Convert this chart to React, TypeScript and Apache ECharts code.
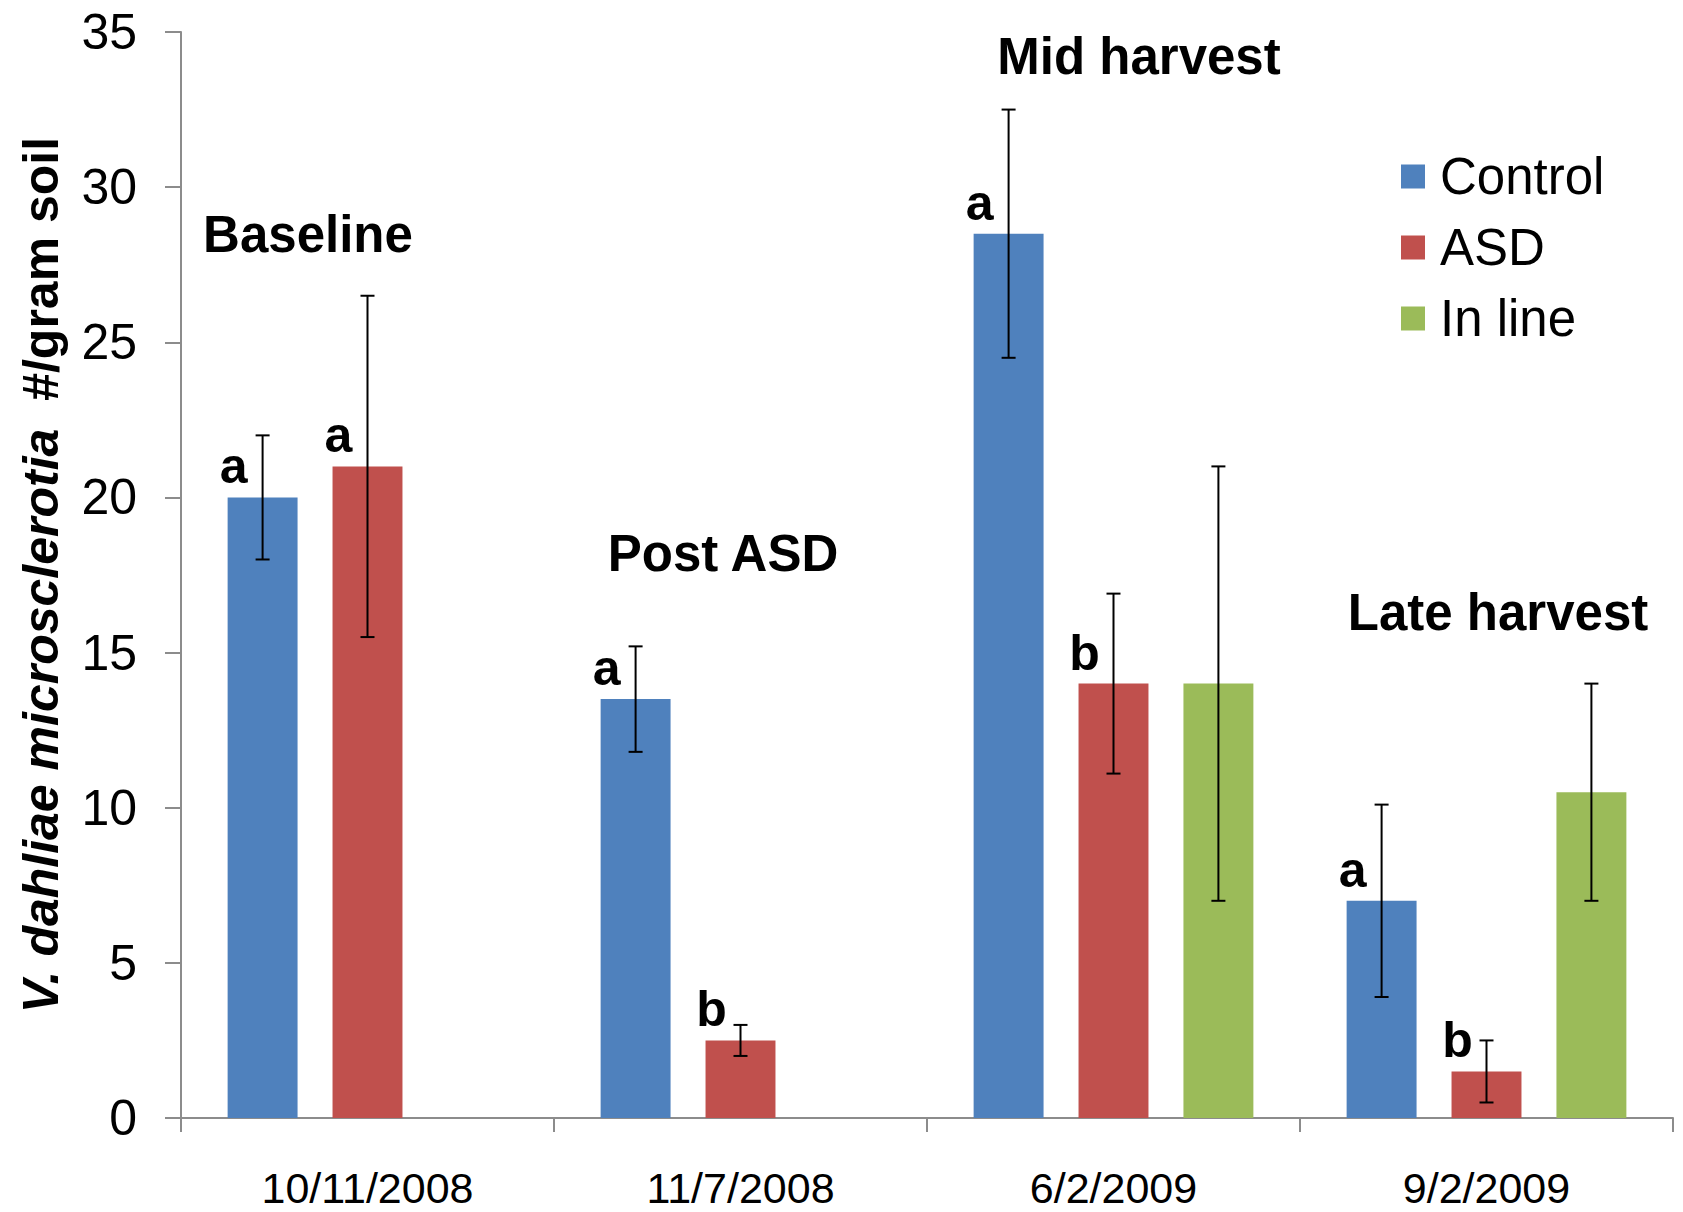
import React, { useEffect, useRef } from "react";
import * as echarts from "echarts";

// Sampling dates along the x axis
const dates = ["10/11/2008", "11/7/2008", "6/2/2009", "9/2/2009"];
const seriesNames = ["Control", "ASD", "In line"];

// Mean microsclerotia counts per gram of soil
const controlMeans = [20, 13.5, 28.5, 7];
const asdMeans = [21, 2.5, 14, 1.5];
const inlineMeans = [null, null, 14, 10.5];

// Error bar half-widths
const controlErr = [2, 1.7, 4, 3.1];
const asdErr = [5.5, 0.5, 2.9, 1];
const inlineErr = [null, null, 7, 3.5];

// Significance letters above bars
const controlLetters = ["a", "a", "a", "a"];
const asdLetters = ["a", "b", "b", "b"];
const inlineLetters = ["", "", "", ""];

// Period names written over each date group
const periodNames = ["Baseline", "Post ASD", "Mid harvest", "Late harvest"];

// Y axis scale
const yMin = 0;
const yMax = 35;
const yStep = 5;

const FONT = "'Liberation Sans', Arial, Helvetica, sans-serif";
const COLORS = ["#4F81BD", "#C0504D", "#9BBB59"];
const AXIS_GREY = "#8c8c8c";

export default function App() {
  const ref = useRef<HTMLDivElement | null>(null);

  useEffect(() => {
    if (!ref.current) return;
    const chart = echarts.init(ref.current, null, { renderer: "svg" });

    const means = [controlMeans, asdMeans, inlineMeans];
    const errs = [controlErr, asdErr, inlineErr];
    const letters = [controlLetters, asdLetters, inlineLetters];

    const barSeries = means.map((vals, si) => ({
      name: seriesNames[si],
      type: "bar",
      data: vals.map((v) => (v === null ? "-" : v)),
      barGap: "50%",
      barCategoryGap: "25%",
      itemStyle: { color: COLORS[si] },
      z: 2,
      label: {
        show: true,
        position: "top",
        distance: 6,
        offset: [-29, 0],
        formatter: (p: any) => letters[si][p.dataIndex] || "",
        color: "#000",
        fontFamily: FONT,
        fontWeight: "bold",
        fontSize: 50,
      },
    }));

    // Error bars drawn with the same offsets as the grouped bars
    const errorSeries = means.map((vals, si) => ({
      name: seriesNames[si] + " error",
      type: "custom",
      z: 5,
      silent: true,
      data: vals
        .map((v, i) =>
          v === null || errs[si][i] === null
            ? null
            : [i, (v as number) - (errs[si][i] as number), (v as number) + (errs[si][i] as number)]
        )
        .filter((d) => d !== null),
      encode: { x: 0, y: [1, 2] },
      renderItem: (params: any, api: any) => {
        const cat = api.value(0);
        const lo = api.value(1);
        const hi = api.value(2);
        const band = api.size([1, 0])[0];
        const step = band * 0.28125;
        const pLo = api.coord([cat, lo]);
        const pHi = api.coord([cat, hi]);
        const x = pLo[0] + (si - 1) * step;
        const cap = 7;
        const style = { stroke: "#000", lineWidth: 2 };
        return {
          type: "group",
          children: [
            { type: "line", shape: { x1: x, y1: pLo[1], x2: x, y2: pHi[1] }, style },
            { type: "line", shape: { x1: x - cap, y1: pHi[1], x2: x + cap, y2: pHi[1] }, style },
            { type: "line", shape: { x1: x - cap, y1: pLo[1], x2: x + cap, y2: pLo[1] }, style },
          ],
        };
      },
    }));

    const periodPos = [
      [308, 234],
      [723, 553],
      [1139, 56],
      [1498, 612],
    ];

    chart.setOption({
      animation: false,
      backgroundColor: "#ffffff",
      textStyle: { fontFamily: FONT },
      grid: { left: 181, right: 10, top: 32, bottom: 94, containLabel: false },
      legend: {
        data: seriesNames,
        orient: "vertical",
        left: 1396,
        top: 146,
        itemWidth: 24,
        itemHeight: 24,
        itemGap: 20,
        icon: "rect",
        textStyle: {
          fontFamily: FONT,
          fontSize: 51,
          color: "#000",
          padding: [0, 0, 0, 10],
        },
      },
      xAxis: {
        type: "category",
        data: dates,
        axisLine: { show: true, lineStyle: { color: AXIS_GREY, width: 2 } },
        axisTick: { show: true, length: 14, lineStyle: { color: AXIS_GREY, width: 2 } },
        axisLabel: { fontFamily: FONT, fontSize: 43, color: "#000", margin: 48 },
        splitLine: { show: false },
      },
      yAxis: {
        type: "value",
        min: yMin,
        max: yMax,
        interval: yStep,
        name: "{i|V. dahliae microsclerotia}{n|  #/gram soil}",
        nameLocation: "middle",
        nameRotate: 90,
        nameGap: 115,
        nameTextStyle: {
          rich: {
            i: { fontFamily: FONT, fontStyle: "italic", fontWeight: "bold", fontSize: 50, color: "#000" },
            n: { fontFamily: FONT, fontWeight: "bold", fontSize: 50, color: "#000" },
          },
        },
        axisLine: { show: true, lineStyle: { color: AXIS_GREY, width: 2 } },
        axisTick: { show: true, length: 16, lineStyle: { color: AXIS_GREY, width: 2 } },
        axisLabel: { fontFamily: FONT, fontSize: 50, color: "#000", margin: 44 },
        splitLine: { show: false },
      },
      graphic: periodNames.map((t, i) => ({
        type: "text",
        x: periodPos[i][0],
        y: periodPos[i][1],
        z: 10,
        style: {
          text: t,
          fontFamily: FONT,
          fontWeight: "bold",
          fontSize: 51,
          fill: "#000",
          textAlign: "center",
          textVerticalAlign: "middle",
        },
      })),
      series: [...barSeries, ...errorSeries],
    });

    return () => chart.dispose();
  }, []);

  return (
    <div
      ref={ref}
      style={{ position: "absolute", left: 0, top: 0, width: 1683, height: 1212 }}
    />
  );
}
